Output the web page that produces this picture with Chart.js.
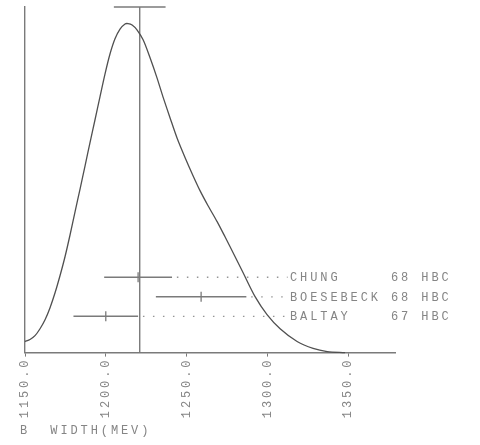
<!DOCTYPE html>
<html>
<head>
<meta charset="utf-8">
<script src="https://cdn.jsdelivr.net/npm/chart.js@4.4.1/dist/chart.umd.min.js"></script>
<style>
  html, body { margin: 0; padding: 0; background: #fff; }
  #wrap { width: 480px; height: 445px; position: relative; }
</style>
</head>
<body>
<div id="wrap"><canvas id="c"></canvas></div>
<script>
// Measurements of the width (MeV), listed top to bottom
const names = ['CHUNG', 'BOESEBECK', 'BALTAY'];
const years = ['68', '68', '67'];
const techniques = ['HBC', 'HBC', 'HBC'];
const values = [1220, 1259, 1200];
const errors = [21, 28, 20];

// Weighted average and its error
const average = 1221;
const averageError = 16;

// Ideogram curve (relative height)
const curveX = [1150.0, 1153.1, 1156.2, 1159.3, 1162.4, 1165.5, 1168.6, 1171.7, 1174.8, 1177.9,
  1181.0, 1184.1, 1187.2, 1190.2, 1193.3, 1196.4, 1199.5, 1202.6, 1205.7, 1208.8,
  1211.9, 1213.8, 1216.3, 1219.3, 1223.1, 1227.4, 1231.7, 1235.4, 1239.8, 1244.1,
  1249.1, 1254.0, 1258.4, 1263.3, 1268.9, 1273.8, 1278.8, 1285.0, 1292.4, 1299.8,
  1307.9, 1318.4, 1328.3, 1337.0, 1348.1];
const curveY = [0.032, 0.038, 0.049, 0.069, 0.095, 0.130, 0.173, 0.223, 0.278, 0.341,
  0.408, 0.474, 0.541, 0.607, 0.673, 0.740, 0.806, 0.864, 0.908, 0.936,
  0.951, 0.952, 0.948, 0.934, 0.905, 0.853, 0.795, 0.740, 0.679, 0.621,
  0.564, 0.512, 0.468, 0.425, 0.379, 0.335, 0.289, 0.231, 0.162, 0.110,
  0.069, 0.032, 0.012, 0.003, 0];

const tickValues = [1150, 1200, 1250, 1300, 1350];
const axisTitle = 'B  WIDTH(MEV)';

// Layout
const X_MIN = 1150, X_MAX = 1379;
const LABEL_AT = 1314;          // column where the measurement labels start
const ROW_BASE = 0.105, ROW_STEP = 0.0565;
const rowY = i => ROW_BASE + (names.length - 1 - i) * ROW_STEP;

const FONT = '"Liberation Mono", "DejaVu Sans Mono", monospace';
const FONT_SIZE = 12;
const SPACING = '2.9px';
const LINE = '#7a7a7a';
const TEXT = '#858585';

const datasets = [];

// ideogram
datasets.push({
  data: curveX.map((x, i) => ({ x, y: curveY[i] })),
  borderColor: '#505050', borderWidth: 1.3, pointRadius: 0, tension: 0.3, clip: false
});

// average: vertical line and error bar along the top
datasets.push({
  data: [{ x: average, y: 0 }, { x: average, y: 1 }],
  borderColor: LINE, borderWidth: 1.4, pointRadius: 0, clip: false
});
datasets.push({
  data: [{ x: average - averageError, y: 1 }, { x: average + averageError, y: 1 }],
  borderColor: LINE, borderWidth: 1.4, pointRadius: 0, clip: false
});

// measurements: error bars and dotted leaders to the labels
values.forEach((v, i) => {
  const y = rowY(i);
  datasets.push({
    data: [{ x: v - errors[i], y }, { x: v + errors[i], y }],
    borderColor: LINE, borderWidth: 1.4, pointRadius: 0, clip: false
  });
  datasets.push({
    data: [{ x: v + errors[i] + 3, y }, { x: LABEL_AT - 1.5, y }],
    borderColor: '#959595', borderWidth: 1.3, borderDash: [1.5, 8.5], pointRadius: 0, clip: false
  });
});

// central values
datasets.push({
  data: values.map((v, i) => ({ x: v, y: rowY(i) })),
  showLine: false, pointStyle: 'line', rotation: 90, pointRadius: 5,
  borderColor: LINE, borderWidth: 1.3, clip: false
});

const textSpacing = {
  id: 'textSpacing',
  beforeDraw(chart) { chart.ctx.letterSpacing = SPACING; }
};

const entryLabels = {
  id: 'entryLabels',
  afterDatasetsDraw(chart) {
    const { ctx, scales: { x, y } } = chart;
    ctx.save();
    ctx.font = FONT_SIZE + 'px ' + FONT;
    ctx.letterSpacing = SPACING;
    ctx.fillStyle = TEXT;
    ctx.textAlign = 'left';
    ctx.textBaseline = 'middle';
    names.forEach((n, i) => {
      ctx.fillText(n.padEnd(10) + years[i] + ' ' + techniques[i],
        x.getPixelForValue(LABEL_AT), y.getPixelForValue(rowY(i)) + 1);
    });
    ctx.restore();
  }
};

new Chart(document.getElementById('c'), {
  type: 'scatter',
  data: { datasets },
  plugins: [textSpacing, entryLabels],
  options: {
    responsive: true,
    maintainAspectRatio: false,
    animation: false,
    showLine: true,
    layout: { padding: { left: 20, right: 85, top: 7, bottom: 0 } },
    plugins: {
      legend: { display: false },
      tooltip: { enabled: false },
      title: {
        display: true, text: axisTitle, position: 'bottom', align: 'start',
        color: TEXT, font: { family: FONT, size: FONT_SIZE, weight: 'normal' },
        padding: { top: 0, bottom: 7 }
      }
    },
    scales: {
      x: {
        type: 'linear', min: X_MIN, max: X_MAX,
        afterBuildTicks: s => { s.ticks = tickValues.map(value => ({ value })); },
        afterFit: s => { s.height = 71; },
        grid: { drawOnChartArea: false, drawTicks: true, tickLength: 4, color: LINE },
        border: { display: true, color: LINE, width: 1.4 },
        ticks: {
          autoSkip: false, minRotation: 90, maxRotation: 90, padding: 1,
          color: TEXT, font: { family: FONT, size: FONT_SIZE },
          callback: v => Number(v).toFixed(1)
        }
      },
      y: {
        type: 'linear', min: 0, max: 1,
        afterFit: s => { s.width = 5; },
        grid: { display: false },
        border: { display: true, color: LINE, width: 1.4 },
        ticks: { display: false }
      }
    }
  }
});
</script>
</body>
</html>
